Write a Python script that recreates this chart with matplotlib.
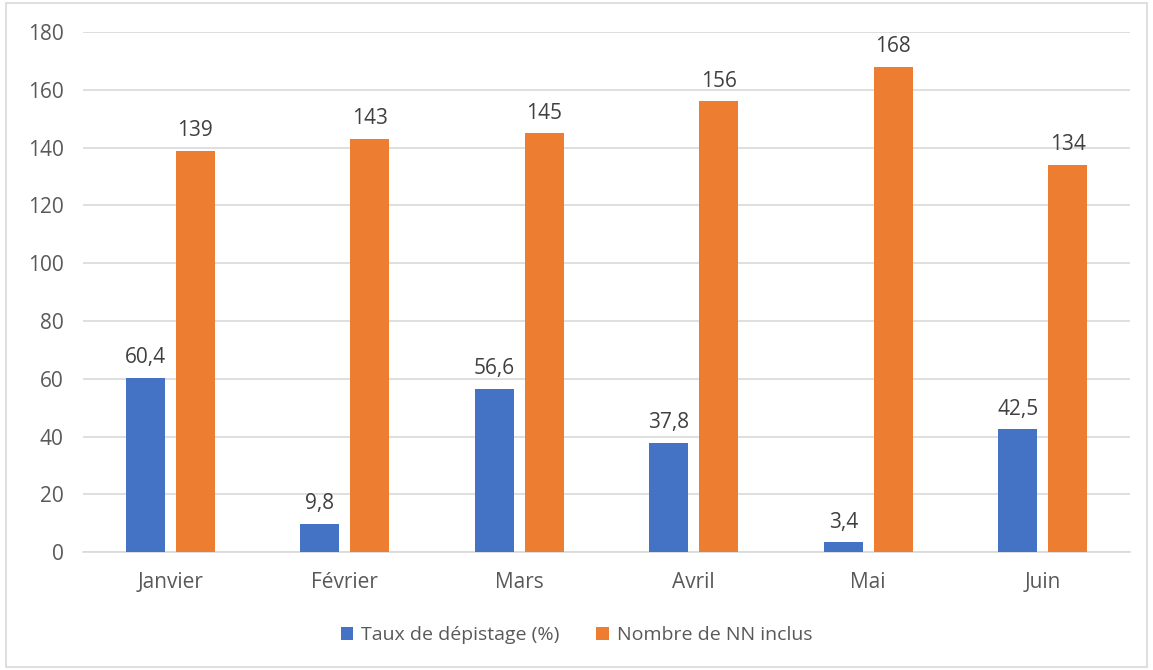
import matplotlib
matplotlib.use("Agg")
import matplotlib.pyplot as plt
import numpy as np
from matplotlib.patches import Rectangle

categories = ["Janvier", "Février", "Mars", "Avril", "Mai", "Juin"]
taux = [60.4, 9.8, 56.6, 37.8, 3.4, 42.5]
nombre = [139, 143, 145, 156, 168, 134]
taux_labels = ["60,4", "9,8", "56,6", "37,8", "3,4", "42,5"]
nombre_labels = ["139", "143", "145", "156", "168", "134"]
yticks = [0, 20, 40, 60, 80, 100, 120, 140, 160, 180]

plt.rcParams['font.family'] = ['Open Sans', 'DejaVu Sans']
txt = "#595959"
blue = "#4472C4"
orange = "#ED7D31"
fs = 15

fig = plt.figure(figsize=(11.53, 6.70), dpi=100)
fig.patches.append(Rectangle((0.005, 0.004), 0.99, 0.992, transform=fig.transFigure,
                             fill=False, edgecolor="#D9D9D9", linewidth=1.2))
ax = fig.add_axes([0.072, 0.176, 0.908, 0.776])

x = np.arange(len(categories))
w = 0.222
off = 0.143
b1 = ax.bar(x - off, taux, w, color=blue, label="Taux de dépistage (%)", zorder=3)
b2 = ax.bar(x + off, nombre, w, color=orange, label="Nombre de NN inclus", zorder=3)

for rect, lab in zip(b1, taux_labels):
    ax.annotate(lab, (rect.get_x() + rect.get_width() / 2, rect.get_height()),
                xytext=(0, 7), textcoords="offset points", ha="center", va="bottom",
                fontsize=fs, color="#404040")
for rect, lab in zip(b2, nombre_labels):
    ax.annotate(lab, (rect.get_x() + rect.get_width() / 2, rect.get_height()),
                xytext=(0, 7), textcoords="offset points", ha="center", va="bottom",
                fontsize=fs, color="#404040")

ax.set_xlim(-0.5, len(categories) - 0.5)
ax.set_ylim(0, 180)
ax.set_yticks(yticks)
ax.set_xticks(x)
ax.set_xticklabels(categories)
ax.tick_params(axis="both", length=0, labelsize=fs, labelcolor=txt)
ax.tick_params(axis="x", pad=14)
ax.tick_params(axis="y", pad=14)
ax.grid(axis="y", color="#D9D9D9", linewidth=1.2, zorder=0)
for s in ["top", "right", "left"]:
    ax.spines[s].set_visible(False)
ax.spines["bottom"].set_color("#D9D9D9")
ax.spines["bottom"].set_linewidth(1.2)

fig.legend(handles=[b1, b2], loc="center", bbox_to_anchor=(0.5, 0.052), ncol=2,
           frameon=False, fontsize=14, labelcolor=txt, handlelength=0.65,
           handleheight=0.65, handletextpad=0.4, columnspacing=1.9)

fig.savefig("out.png", dpi=100)
